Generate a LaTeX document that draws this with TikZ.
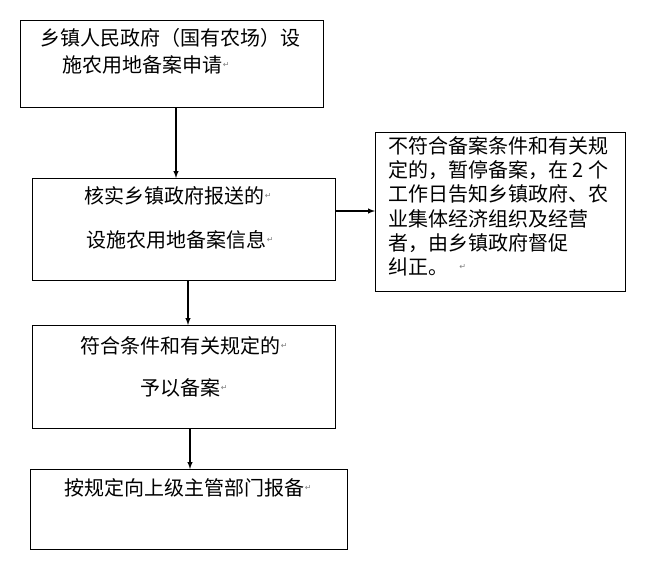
\documentclass[tikz,border=0pt]{standalone}
\usepackage{fontspec}
\setmainfont{Noto Sans CJK SC}
\newfontfamily\retfont{DejaVu Sans}
\usetikzlibrary{positioning}

\begin{document}
\begin{tikzpicture}[x=0.75pt,y=-0.75pt,
    flowbox/.style={draw,line width=0.8pt,anchor=north west,inner sep=0pt},
    txt/.style={anchor=west,inner sep=0pt,font=\fontsize{15}{17}\selectfont},
    ret/.style={anchor=west,inner sep=0pt,font=\retfont\fontsize{6}{7}\selectfont,text=gray},
    flowarrow/.style={-latex,line width=0.8pt}]
  \useasboundingbox (0,0) rectangle (648,567);
  % boxes
  \node[flowbox,minimum width=303*0.75pt,minimum height=87*0.75pt] (apply) at (20,20) {};
  \node[flowbox,minimum width=303*0.75pt,minimum height=102*0.75pt] (check) at (32,178) {};
  \node[flowbox,minimum width=250*0.75pt,minimum height=159*0.75pt] (reject) at (375,132) {};
  \node[flowbox,minimum width=303*0.75pt,minimum height=103*0.75pt] (accept) at (32,325) {};
  \node[flowbox,minimum width=317*0.75pt,minimum height=80*0.75pt] (report) at (30,469) {};
  % texts
  \node[txt] (t1) at (40,38) {乡镇人民政府（国有农场）设};
  \node[txt] (t2) at (62,65) {施农用地备案申请};
  \node[ret] at (t2.east) {↵};
  \node[txt] (t3) at (84,196) {核实乡镇政府报送的};
  \node[ret] at (t3.east) {↵};
  \node[txt] (t4) at (86,240) {设施农用地备案信息};
  \node[ret] at (t4.east) {↵};
  \node[txt] (t5) at (80,346) {符合条件和有关规定的};
  \node[ret] at (t5.east) {↵};
  \node[txt] (t6) at (140,388) {予以备案};
  \node[ret] at (t6.east) {↵};
  \node[txt] (t7) at (64,488) {按规定向上级主管部门报备};
  \node[ret] at (t7.east) {↵};
  \node[txt] (r1) at (388,146) {不符合备案条件和有关规};
  \node[txt] (r2) at (388,170) {定的，暂停备案，在 2 个};
  \node[txt] (r3) at (388,194) {工作日告知乡镇政府、农};
  \node[txt] (r4) at (388,219) {业集体经济组织及经营};
  \node[txt] (r5) at (388,243) {者，由乡镇政府督促};
  \node[txt] (r6) at (388,267) {纠正。};
  \node[ret] at ([xshift=8pt]r6.east) {↵};
  % arrows
  \draw[flowarrow] (apply.south -| 176,0) -- (check.north -| 176,0);
  \draw[flowarrow] (check.south -| 188,0) -- (accept.north -| 188,0);
  \draw[flowarrow] (accept.south -| 190,0) -- (report.north -| 190,0);
  \draw[flowarrow] (check.east |- 0,211) -- (reject.west |- 0,211);
\end{tikzpicture}
\end{document}
